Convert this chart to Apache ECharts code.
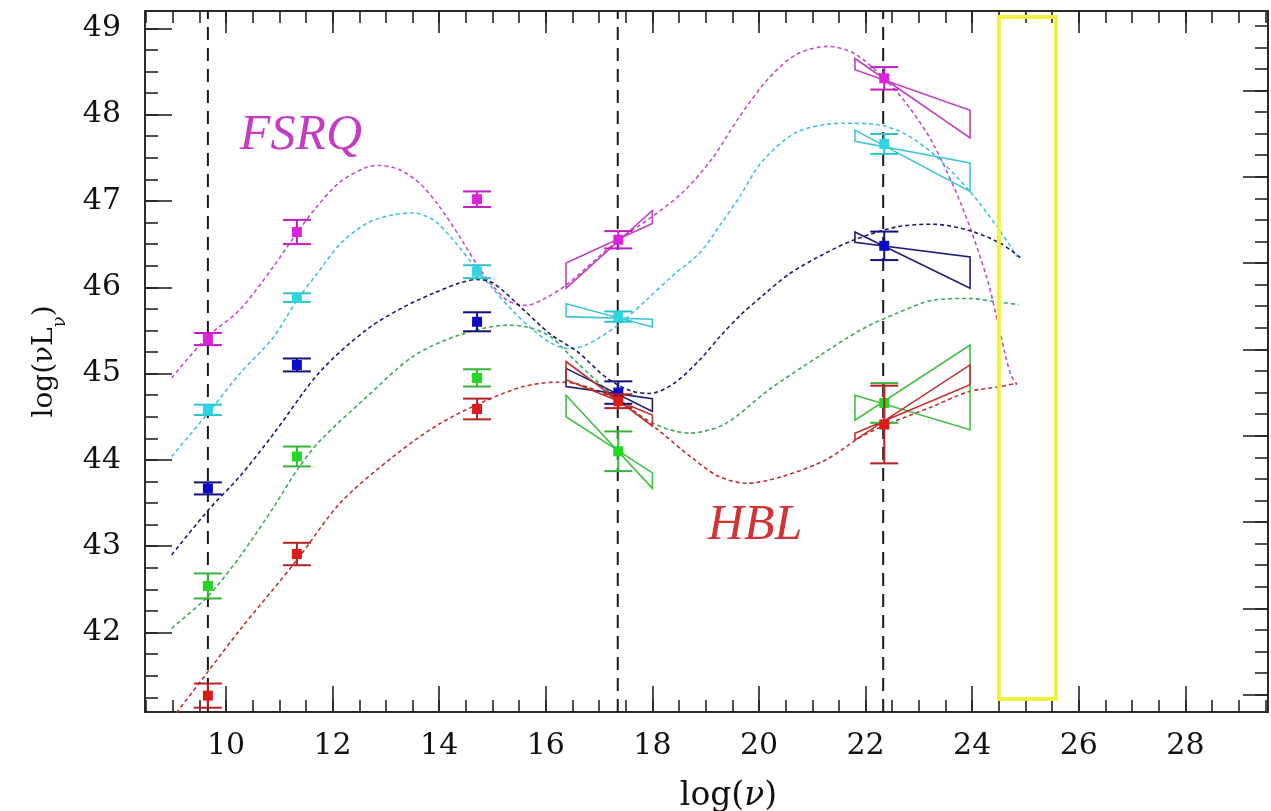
<!DOCTYPE html>
<html><head><meta charset="utf-8">
<script src="https://cdn.jsdelivr.net/npm/echarts@6/dist/echarts.min.js"></script>
<style>html,body{margin:0;padding:0;background:#fff}#c{width:1271px;height:811px}</style>
</head><body><div id="c"></div>
<script>
// ---------- axis ranges & ticks ----------
const xMin = 8.48, xMax = 29.55, yMin = 41.08, yMax = 49.2;
const xMajorTicks = [10, 12, 14, 16, 18, 20, 22, 24, 26, 28];
const xTickLabels = ['10', '12', '14', '16', '18', '20', '22', '24', '26', '28'];
const yMajorTicks = [42, 43, 44, 45, 46, 47, 48, 49];
const yTickLabels = ['42', '43', '44', '45', '46', '47', '48', '49'];
const yRightMajorTicks = [41.28, 42.28, 43.28, 44.28, 45.28, 46.28, 47.28, 48.28];
const xMinorTicks = [];
for (let v = 8.5; v <= 29.5; v += 0.5) xMinorTicks.push(+v.toFixed(2));
const yMinorTicks = [];
for (let v = 41.25; v <= 49.01; v += 0.25) yMinorTicks.push(+v.toFixed(2));
const yRightMinorTicks = [];
for (let v = 41.28; v <= 49.1; v += 0.25) yRightMinorTicks.push(+v.toFixed(2));

// ---------- observation bands ----------
const bandLines = [9.66, 17.35, 22.33];           // dashed vertical lines
const pointNu = [9.66, 11.33, 14.71, 17.36, 22.35]; // positions of the average points

// ---------- average SED points (log nuL_nu) and errors ----------
const lumMagenta = [45.40, 46.64, 47.02, 46.55, 48.42];
const errMagenta = [0.07, 0.14, 0.09, 0.10, 0.13];
const lumCyan    = [44.58, 45.88, 46.18, 45.66, 47.66];
const errCyan    = [0.06, 0.05, 0.075, 0.06, 0.115];
const lumBlue    = [43.67, 45.10, 45.60, 44.78, 46.48];
const errBlue    = [0.07, 0.075, 0.11, 0.13, 0.165];
const lumGreen   = [42.54, 44.04, 44.95, 44.10, 44.66];
const errGreen   = [0.145, 0.115, 0.10, 0.23, 0.23];
const lumRed     = [41.27, 42.91, 44.59, 44.68, 44.41];
const errRed     = [0.14, 0.13, 0.12, 0.08, 0.45];

// ---------- spectral-index bow ties: [leftTop, leftBottom, rightTop, rightBottom] ----------
const xrayRange = [16.38, 18.0];
const gammaRange = [21.8, 23.96];
const xrayMagenta = [46.28, 45.99, 46.89, 46.74];
const xrayCyan    = [45.81, 45.66, 45.63, 45.54];
const xrayBlue    = [45.06, 44.85, 44.71, 44.56];
const xrayRed     = [45.14, 44.93, 44.52, 44.39];
const xrayGreen   = [44.75, 44.50, 43.85, 43.67];
const gammaMagenta = [48.65, 48.52, 48.05, 47.73];
const gammaCyan    = [47.82, 47.69, 47.44, 47.11];
const gammaBlue    = [46.64, 46.52, 46.35, 45.99];
const gammaGreen   = [44.75, 44.46, 45.33, 44.35];
const gammaRed     = [44.31, 44.23, 45.10, 44.87];

// ---------- model curves [log nu, log nuL_nu] ----------
const curveMagenta = [[8.98,44.95],[9.66,45.43],[10.26,45.74],[10.89,46.24],[11.33,46.63],[11.70,46.93],[12.14,47.22],[12.64,47.39],[12.89,47.41],[13.26,47.36],[13.64,47.20],[14.01,46.93],[14.39,46.58],[14.70,46.27],[15.01,46.01],[15.30,45.84],[15.62,45.79],[15.95,45.86],[16.39,46.03],[17.35,46.54],[18.0,46.82],[18.57,47.10],[19.11,47.48],[19.64,47.98],[20.18,48.42],[20.71,48.70],[21.30,48.79],[21.78,48.71],[22.35,48.42],[22.80,48.10],[23.26,47.67],[23.8,46.95],[24.27,46.12],[24.5,45.54],[24.62,45.22],[24.73,44.98],[24.84,44.87]];
const curveCyan = [[8.98,44.04],[9.66,44.54],[10.26,45.0],[10.89,45.42],[11.33,45.85],[11.70,46.15],[12.14,46.50],[12.64,46.74],[13.14,46.84],[13.51,46.86],[13.89,46.78],[14.26,46.55],[14.64,46.26],[15.01,45.98],[15.39,45.72],[15.77,45.50],[16.08,45.36],[16.40,45.29],[16.75,45.33],[17.35,45.56],[17.90,45.86],[18.39,46.14],[18.89,46.40],[19.27,46.72],[19.64,47.05],[20.05,47.45],[20.72,47.80],[21.59,47.90],[22.26,47.88],[22.73,47.78],[23.26,47.55],[23.93,47.13],[24.47,46.70],[24.85,46.35]];
const curveBlue = [[8.98,42.90],[9.67,43.42],[10.26,43.81],[10.89,44.30],[11.76,45.02],[12.64,45.51],[13.30,45.76],[13.89,45.93],[14.39,46.05],[14.70,46.09],[15.01,46.05],[15.58,45.74],[16.10,45.45],[16.60,45.25],[17.14,44.95],[17.60,44.80],[17.95,44.77],[18.39,44.88],[18.89,45.16],[19.27,45.43],[19.64,45.67],[20.10,45.92],[20.58,46.16],[21.20,46.38],[21.79,46.55],[22.59,46.70],[23.26,46.73],[23.93,46.66],[24.53,46.51],[24.95,46.32]];
const curveGreen = [[8.98,42.05],[9.66,42.42],[10.26,42.88],[10.89,43.45],[11.33,43.88],[11.76,44.22],[12.64,44.73],[13.51,45.20],[14.39,45.45],[15.27,45.56],[15.64,45.54],[16.08,45.43],[16.6,45.12],[17.35,44.70],[18.03,44.42],[18.70,44.31],[19.37,44.42],[20.18,44.81],[21.12,45.20],[21.92,45.51],[22.59,45.70],[23.26,45.85],[23.93,45.87],[24.47,45.83],[24.87,45.80]];
const curveRed = [[9.07,41.07],[9.64,41.53],[10.26,42.03],[11.33,42.84],[12.14,43.50],[13.14,44.04],[14.01,44.42],[14.89,44.69],[15.58,44.85],[16.20,44.90],[16.60,44.88],[17.36,44.69],[18.10,44.35],[18.71,44.04],[19.24,43.81],[19.77,43.73],[20.45,43.81],[21.25,44.00],[21.92,44.27],[22.32,44.39],[23.26,44.62],[23.93,44.79],[24.53,44.85],[24.84,44.89]];

// ---------- highlighted band (yellow box) [nu1, nu2, L1, L2] ----------
const yellowBox = [24.5, 25.57, 41.23, 49.13];

// ---------- annotations [text, nu, L] ----------
const annotations = [['FSRQ', 10.26, 47.75], ['HBL', 19.04, 43.24]];

// ---------- styles ----------
const C = {
  magenta: {pt: '#dc22dc', bar: '#c21cc2', tie: '#c040c0', curve: '#c050c0'},
  cyan:    {pt: '#2fd6e2', bar: '#2cc2d0', tie: '#3ec6d6', curve: '#3fc4d6'},
  blue:    {pt: '#0c0cc8', bar: '#12127a', tie: '#1c1c78', curve: '#1c1c6a'},
  green:   {pt: '#22d822', bar: '#36b436', tie: '#44c044', curve: '#3aaa58'},
  red:     {pt: '#dc1a1a', bar: '#b82020', tie: '#c03232', curve: '#c03030'}
};
const FONT = "'DejaVu Serif', serif";

const chart = echarts.init(document.getElementById('c'), null, {renderer: 'canvas'});

function errSeries(lum, err, col) {
  return {
    type: 'custom', z: 5, silent: true,
    data: lum.map((l, i) => [pointNu[i], l, err[i]]),
    renderItem: function (params, api) {
      const x = api.value(0), y = api.value(1), e = api.value(2);
      const p = api.coord([x, y]);
      const t = api.coord([x, y + e]);
      const b = api.coord([x, y - e]);
      const ls = {stroke: col.bar, lineWidth: 2};
      return {type: 'group', children: [
        {type: 'line', shape: {x1: p[0], y1: t[1], x2: p[0], y2: b[1]}, style: ls},
        {type: 'line', shape: {x1: p[0] - 14, y1: t[1], x2: p[0] + 14, y2: t[1]}, style: ls},
        {type: 'line', shape: {x1: p[0] - 14, y1: b[1], x2: p[0] + 14, y2: b[1]}, style: ls},
        {type: 'rect', shape: {x: p[0] - 5, y: p[1] - 5, width: 10, height: 10}, style: {fill: col.pt}}
      ]};
    }
  };
}

function tieSeries(range, vals, col) {
  return {
    type: 'custom', z: 4, silent: true,
    data: [[range[0], range[1], vals[0], vals[1], vals[2], vals[3]]],
    renderItem: function (params, api) {
      const x1 = api.value(0), x2 = api.value(1);
      const pts = [
        api.coord([x1, api.value(2)]),
        api.coord([x2, api.value(5)]),
        api.coord([x2, api.value(4)]),
        api.coord([x1, api.value(3)])
      ];
      return {type: 'polygon', shape: {points: pts}, style: {fill: 'none', stroke: col.tie, lineWidth: 1.6}};
    }
  };
}

function curveSeries(data, col) {
  return {
    type: 'line', data: data, smooth: 0.3, showSymbol: false, silent: true, z: 3,
    lineStyle: {color: col.curve, width: 1.6, type: [4, 3]}
  };
}

const vlineSeries = {
  type: 'custom', z: 2, silent: true,
  data: bandLines.map(v => [v, yMin, yMax]),
  renderItem: function (params, api) {
    const a = api.coord([api.value(0), api.value(1)]);
    const b = api.coord([api.value(0), api.value(2)]);
    return {type: 'line', shape: {x1: a[0], y1: a[1], x2: b[0], y2: b[1]},
      style: {stroke: '#1a1a1a', lineWidth: 2, lineDash: [13, 8]}};
  }
};

const boxSeries = {
  type: 'custom', z: 6, silent: true,
  data: [yellowBox],
  renderItem: function (params, api) {
    const a = api.coord([api.value(0), api.value(3)]);
    const b = api.coord([api.value(1), api.value(2)]);
    return {type: 'rect', shape: {x: a[0], y: a[1], width: b[0] - a[0], height: b[1] - a[1]},
      style: {fill: 'none', stroke: '#f2f23c', lineWidth: 4}};
  }
};

const tickLine = {color: '#222', width: 1.6};
function xAxisDef(pos, ticks, len, main, labels) {
  return {
    type: 'value', position: pos, min: xMin, max: xMax, splitLine: {show: false},
    axisLine: {show: main, onZero: false, lineStyle: {color: '#2a2a2a', width: 2}},
    axisTick: {show: true, inside: true, length: len, customValues: ticks, lineStyle: tickLine},
    axisLabel: labels ? {show: true, customValues: xMajorTicks, margin: 19,
      formatter: v => xTickLabels[xMajorTicks.indexOf(Math.round(v))],
      fontFamily: FONT, fontSize: 30, color: '#111'} : {show: false}
  };
}
function yAxisDef(pos, ticks, len, main, labels) {
  return {
    type: 'value', position: pos, min: yMin, max: yMax, splitLine: {show: false},
    axisLine: {show: main, onZero: false, lineStyle: {color: '#2a2a2a', width: 2}},
    axisTick: {show: true, inside: true, length: len, customValues: ticks, lineStyle: tickLine},
    axisLabel: labels ? {show: true, customValues: yMajorTicks, margin: 24,
      formatter: v => yTickLabels[yMajorTicks.indexOf(Math.round(v))],
      fontFamily: FONT, fontSize: 30, color: '#111'} : {show: false}
  };
}

const xAxes = [
  xAxisDef('bottom', xMajorTicks, 26, true, true),
  xAxisDef('bottom', xMinorTicks, 12, false, false),
  xAxisDef('top', xMajorTicks, 22, true, false),
  xAxisDef('top', xMinorTicks, 12, false, false)
];
xAxes[0].name = '{a|log(}{i|ν}{a|)}';
xAxes[0].nameLocation = 'middle';
xAxes[0].nameGap = 68;
xAxes[0].nameTextStyle = {padding: [0, 0, 0, 44], rich: {
  a: {fontFamily: FONT, fontSize: 33, color: '#111'},
  i: {fontFamily: FONT, fontSize: 33, fontStyle: 'italic', color: '#111'}}};

const yAxes = [
  yAxisDef('left', yMajorTicks, 27, true, true),
  yAxisDef('left', yMinorTicks, 13, false, false),
  yAxisDef('right', yRightMajorTicks, 25, true, false),
  yAxisDef('right', yRightMinorTicks, 13, false, false)
];
yAxes[0].name = '{a|log(νL}{s|ν}{a|)}';
yAxes[0].nameLocation = 'middle';
yAxes[0].nameRotate = 90;
yAxes[0].nameGap = 86;
yAxes[0].nameTextStyle = {rich: {
  a: {fontFamily: FONT, fontSize: 28, color: '#111'},
  s: {fontFamily: FONT, fontSize: 18, color: '#111', verticalAlign: 'bottom', lineHeight: 18, padding: [0, 0, -10, 0]}}};

const series = [
  vlineSeries,
  curveSeries(curveMagenta, C.magenta),
  curveSeries(curveCyan, C.cyan),
  curveSeries(curveBlue, C.blue),
  curveSeries(curveGreen, C.green),
  curveSeries(curveRed, C.red),
  tieSeries(xrayRange, xrayMagenta, C.magenta),
  tieSeries(xrayRange, xrayCyan, C.cyan),
  tieSeries(xrayRange, xrayBlue, C.blue),
  tieSeries(xrayRange, xrayRed, C.red),
  tieSeries(xrayRange, xrayGreen, C.green),
  tieSeries(gammaRange, gammaMagenta, C.magenta),
  tieSeries(gammaRange, gammaCyan, C.cyan),
  tieSeries(gammaRange, gammaBlue, C.blue),
  tieSeries(gammaRange, gammaGreen, C.green),
  tieSeries(gammaRange, gammaRed, C.red),
  errSeries(lumMagenta, errMagenta, C.magenta),
  errSeries(lumCyan, errCyan, C.cyan),
  errSeries(lumBlue, errBlue, C.blue),
  errSeries(lumGreen, errGreen, C.green),
  errSeries(lumRed, errRed, C.red),
  boxSeries
];

chart.setOption({
  animation: false,
  backgroundColor: '#fff',
  grid: {left: 145, top: 11, width: 1123, height: 701, show: false, containLabel: false, outerBoundsMode: 'none'},
  xAxis: xAxes,
  yAxis: yAxes,
  series: series
});

const annColors = {FSRQ: '#c43cc4', HBL: '#d03434'};
chart.setOption({
  graphic: annotations.map(a => {
    const p = chart.convertToPixel({xAxisIndex: 0, yAxisIndex: 0}, [a[1], a[2]]);
    return {type: 'text', x: p[0], y: p[1], silent: true, z: 10,
      style: {text: a[0], fill: annColors[a[0]], font: "italic 50px 'Liberation Serif', serif",
        textAlign: 'left', textVerticalAlign: 'middle'}};
  })
});
</script></body></html>
